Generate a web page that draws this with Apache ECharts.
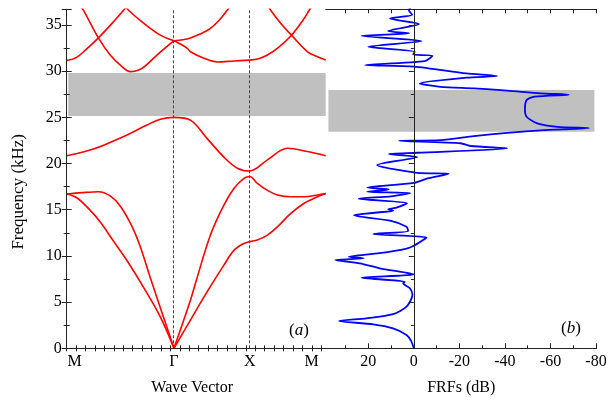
<!DOCTYPE html>
<html><head><meta charset="utf-8">
<script src="https://cdn.jsdelivr.net/npm/echarts@6/dist/echarts.min.js"></script>
<style>html,body{margin:0;padding:0;background:#fff}#c{width:609px;height:402px}</style>
</head><body><div id="c"></div>
<script>
// ---- data ----
const kTickLabels = ['M', 'Γ', 'X', 'M'];
const kTickPos = [0, 1.414, 2.414, 3.414];
const dbTickLabels = [20, 0, -20, -40, -60, -80];
const freqMax = 36.7;
const gapLeft = [25.15, 29.8];
const gapRight = [23.45, 27.95];
// band structure branches: [k, f(kHz)]
const acLowMG = [[0,16.7],[0.132,16.3],[0.286,15.15],[0.44,13.7],[0.617,11.6],[0.794,9.5],[1.013,6.6],[1.234,3.4],[1.414,0]];
const acUpMG = [[0,16.7],[0.2,16.85],[0.418,16.95],[0.573,16.5],[0.705,15.4],[0.86,13.2],[0.97,11.0],[1.10,7.7],[1.234,4.4],[1.414,0]];
const acUpGXM = [[1.414,0],[1.631,5.2],[1.71,7.4],[1.896,12.3],[2.072,15.5],[2.204,17.3],[2.336,18.4],[2.414,18.6],[2.513,17.86],[2.646,17.1],[2.778,16.6],[2.954,16.4],[3.13,16.4],[3.307,16.6],[3.414,16.75]];
const acLowGXM = [[1.414,0],[1.631,3.06],[1.852,6.13],[2.072,9.0],[2.204,10.6],[2.336,11.35],[2.414,11.55],[2.513,11.72],[2.646,12.26],[2.778,13.16],[2.954,14.6],[3.13,15.7],[3.307,16.4],[3.414,16.75]];
const band3 = [[0,20.85],[0.352,21.57],[0.794,23.1],[1.058,24.17],[1.234,24.8],[1.414,25.0],[1.631,24.7],[1.852,22.7],[2.072,20.7],[2.249,19.5],[2.414,19.2],[2.646,20.4],[2.91,21.65],[3.175,21.3],[3.414,20.85]];
const upA = [[0,31.15],[0.13,31.5],[0.25,32.3],[0.418,33.6],[0.6,35.2],[0.75,36.6],[0.8,37.1]];
const upB = [[0.16,37.3],[0.22,36.6],[0.418,33.6],[0.573,31.75],[0.728,30.5],[0.837,29.95],[0.992,30.3],[1.19,31.75],[1.414,33.3]];
const upC = [[0.76,37.2],[0.815,36.6],[1.013,35.2],[1.234,33.9],[1.414,33.3]];
const upD = [[1.414,33.3],[1.53,33.4],[1.631,33.6],[1.852,34.4],[1.984,35.3],[2.116,36.6],[2.18,37.3]];
const upE = [[1.414,33.3],[1.587,32.5],[1.631,32.1],[1.808,31.4],[1.984,31.0],[2.204,31.1],[2.414,31.2]];
const upF = [[2.414,31.2],[2.53,31.35],[2.646,31.75],[2.78,32.5],[2.963,33.9],[3.13,35.7],[3.196,36.6],[3.25,37.3]];
const upG = [[2.64,37.3],[2.689,36.6],[2.82,35.2],[2.963,33.9],[3.175,32.1],[3.307,31.56],[3.414,31.2]];
// FRF curve: [dB, f(kHz)]
const frf = [[0,0],[1.2,0.8],[3.2,1.44],[9.1,2.16],[17.8,2.6],[32.8,2.95],[20.8,3.25],[9.1,3.7],[3.2,4.5],[0.6,5.8],[1.75,6.5],[4.7,7.03],[4.0,7.2],[23,7.65],[0,8.0],[15,8.66],[23.7,9.2],[34.5,9.56],[22,9.74],[28.6,9.9],[15,10.3],[3.2,10.8],[0,11.1],[-4.1,11.72],[-5.6,12.0],[17.8,12.37],[2.5,12.7],[3.2,13.16],[10,13.8],[26.2,14.4],[16,14.7],[9,14.9],[11.3,15.04],[8,15.2],[3,15.7],[24.2,16.19],[10,16.45],[1.45,16.8],[20.5,16.95],[11,17.2],[20.5,17.4],[0,17.9],[-6,18.4],[-15.4,18.9],[-1.5,19.0],[16.1,19.84],[-1.5,20.7],[11,21.03],[-1.5,21.17],[-41,21.65],[-25,21.9],[-20.5,22.2],[6.6,22.47],[-11.7,22.54],[-26.4,22.98],[-41,23.33],[-55.7,23.6],[-77,23.84],[-63,23.98],[-54.2,24.35],[-49.5,25.07],[-48.8,25.9],[-49.5,26.87],[-53,27.25],[-68.1,27.45],[-55.7,27.6],[-41,27.9],[-26.4,28.14],[-11.7,28.3],[-2.6,28.68],[-23,29.3],[-36.6,29.47],[-23,29.76],[0,30.5],[21.5,30.66],[-4.8,31.1],[-8.2,31.67],[0.3,31.8],[-0.4,32.1],[20,32.64],[-3.4,33.26],[23,33.83],[2,34.1],[11.3,34.34],[-2.2,35.1],[10.5,35.7],[0.7,36.1],[2.2,36.6],[1,37]];

// ---- chart ----
const FONT = 'Liberation Serif';
const kMinor = []; for (let v = 0; v <= 3.414 + 1e-6; v += 0.1243) kMinor.push(+v.toFixed(4));
const dbMinor = [30, 10, -10, -30, -50, -70];
const dbAll = [30, 20, 10, 0, -10, -20, -30, -40, -50, -60, -70, -80];
const axLine = { show: true, lineStyle: { color: '#222', width: 1 } };
const lbl = { color: '#000', fontFamily: FONT, fontSize: 16 };

const chart = echarts.init(document.getElementById('c'));
const redBranches = [acLowMG, acUpMG, acUpGXM, acLowGXM, band3, upA, upB, upC, upD, upE, upF, upG];
const series = [];
series.push({ type: 'line', xAxisIndex: 0, yAxisIndex: 0, data: [], z: 1, silent: true,
  markArea: { silent: true, itemStyle: { color: '#c0c0c0' },
    data: [[{ xAxis: 0.02, yAxis: gapLeft[0] }, { xAxis: 3.414, yAxis: gapLeft[1] }]] } });
series.push({ type: 'line', xAxisIndex: 2, yAxisIndex: 2, data: [], z: 1, silent: true,
  markArea: { silent: true, itemStyle: { color: '#c0c0c0' },
    data: [[{ xAxis: 37.5, yAxis: gapRight[0] }, { xAxis: -79.3, yAxis: gapRight[1] }]] } });
series.push({ type: 'line', xAxisIndex: 0, yAxisIndex: 0, data: [], z: 2, silent: true,
  markLine: { silent: true, symbol: 'none', label: { show: false },
    lineStyle: { color: '#444', width: 1, type: [3, 2] },
    data: [{ xAxis: kTickPos[1] }, { xAxis: kTickPos[2] }] } });
series.push({ type: 'line', xAxisIndex: 2, yAxisIndex: 2, data: [], z: 2, silent: true,
  markLine: { silent: true, symbol: 'none', label: { show: false },
    lineStyle: { color: '#444', width: 1, type: [3, 2] },
    data: [{ xAxis: 0 }] } });
redBranches.forEach(b => series.push({ type: 'line', xAxisIndex: 0, yAxisIndex: 0, data: b, z: 3,
  showSymbol: false, smooth: 0.35, clip: true, lineStyle: { color: '#ff0000', width: 1.6 } }));
series.push({ type: 'line', xAxisIndex: 2, yAxisIndex: 2, data: frf, z: 3, showSymbol: false,
  smooth: 0.25, clip: true, lineStyle: { color: '#0000ff', width: 1.8 } });

const option = {
  animation: false,
  grid: [
    { left: 66.7, top: 9.3, width: 259, height: 339, containLabel: false, outerBoundsMode: 'none' },
    { left: 325.7, top: 9.3, width: 271, height: 339, containLabel: false, outerBoundsMode: 'none' }
  ],
  xAxis: [
    { gridIndex: 0, type: 'value', position: 'bottom', min: 0, max: 3.414, z: 10,
      name: 'Wave Vector', nameLocation: 'middle', nameGap: 31,
      nameTextStyle: { color: '#000', fontFamily: FONT, fontSize: 16, padding: [0, 8, 0, 0] },
      axisLine: axLine, splitLine: { show: false },
      axisTick: { show: true, inside: true, length: 3, customValues: kMinor, lineStyle: { color: '#222' } },
      axisLabel: Object.assign({ customValues: kTickPos, margin: 5,
        rich: { l: { fontFamily: FONT, fontSize: 16, color: '#000', padding: [0, 0, 0, 16] },
                r: { fontFamily: FONT, fontSize: 16, color: '#000', padding: [0, 28, 0, 0] } },
        formatter: v => { const i = kTickPos.findIndex(p => Math.abs(p - v) < 1e-3);
          if (i < 0) return ''; if (i === 0) return '{l|' + kTickLabels[i] + '}';
          if (i === kTickPos.length - 1) return '{r|' + kTickLabels[i] + '}'; return kTickLabels[i]; } }, lbl) },
    { gridIndex: 0, type: 'value', position: 'top', min: 0, max: 3.414, z: 10,
      axisLine: axLine, splitLine: { show: false },
      axisTick: { show: true, inside: true, length: 3, customValues: kMinor, lineStyle: { color: '#222' } },
      axisLabel: { show: false } },
    { gridIndex: 1, type: 'value', position: 'bottom', min: -80.3, max: 38.7, inverse: true, z: 10,
      name: 'FRFs (dB)', nameLocation: 'middle', nameGap: 31,
      nameTextStyle: { color: '#000', fontFamily: FONT, fontSize: 16 },
      axisLine: axLine, splitLine: { show: false },
      axisTick: { show: true, inside: true, length: 5, customValues: dbTickLabels, lineStyle: { color: '#222' } },
      axisLabel: Object.assign({ customValues: dbTickLabels, margin: 5, hideOverlap: false }, lbl) },
    { gridIndex: 1, type: 'value', position: 'bottom', min: -80.3, max: 38.7, inverse: true, z: 10,
      axisLine: { show: false }, splitLine: { show: false },
      axisTick: { show: true, inside: true, length: 3, customValues: dbMinor, lineStyle: { color: '#222' } },
      axisLabel: { show: false } },
    { gridIndex: 1, type: 'value', position: 'top', min: -80.3, max: 38.7, inverse: true, z: 10,
      axisLine: axLine, splitLine: { show: false },
      axisTick: { show: true, inside: true, length: 4, customValues: dbAll, lineStyle: { color: '#222' } },
      axisLabel: { show: false } }
  ],
  yAxis: [
    { gridIndex: 0, type: 'value', position: 'left', min: 0, max: freqMax, interval: 5, z: 10,
      name: 'Frequency (kHz)', nameLocation: 'middle', nameGap: 40,
      nameTextStyle: { color: '#000', fontFamily: FONT, fontSize: 17, padding: [0, 26, 0, 0] },
      axisLine: axLine, splitLine: { show: false },
      axisTick: { show: true, inside: true, length: 5, lineStyle: { color: '#222' } },
      minorTick: { show: true, splitNumber: 2, length: 3, lineStyle: { color: '#222' } },
      minorSplitLine: { show: false },
      axisLabel: Object.assign({ margin: 5 }, lbl) },
    { gridIndex: 0, type: 'value', position: 'right', min: 0, max: freqMax, interval: 5, z: 10,
      axisLine: axLine, splitLine: { show: false },
      axisTick: { show: true, inside: true, length: 5, lineStyle: { color: '#222' } },
      minorTick: { show: true, splitNumber: 2, length: 3, lineStyle: { color: '#222' } },
      axisLabel: { show: false } },
    { gridIndex: 1, type: 'value', position: 'right', min: 0, max: freqMax, interval: 5, z: 10,
      axisLine: axLine, splitLine: { show: false },
      axisTick: { show: true, inside: true, length: 5, lineStyle: { color: '#222' } },
      minorTick: { show: true, splitNumber: 2, length: 3, lineStyle: { color: '#222' } },
      axisLabel: { show: false } }
  ],
  graphic: [
    { type: 'text', left: 289, top: 322, z: 20, style: { text: '{p|(}{i|a}{p|)}',
      rich: { p: { fontFamily: FONT, fontSize: 17, fill: '#000' }, i: { fontFamily: FONT, fontSize: 17, fontStyle: 'italic', fill: '#000' } } } },
    { type: 'text', left: 561, top: 320, z: 20, style: { text: '{p|(}{i|b}{p|)}',
      rich: { p: { fontFamily: FONT, fontSize: 17, fill: '#000' }, i: { fontFamily: FONT, fontSize: 17, fontStyle: 'italic', fill: '#000' } } } }
  ],
  series: series
};
chart.setOption(option);
</script></body></html>
